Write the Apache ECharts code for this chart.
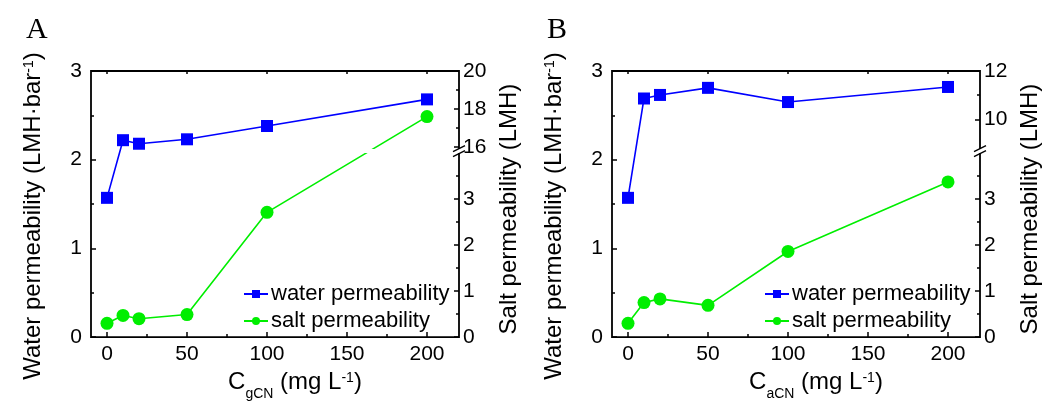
<!DOCTYPE html>
<html><head><meta charset="utf-8">
<script src="https://cdn.jsdelivr.net/npm/echarts@6/dist/echarts.min.js"></script>
<style>html,body{margin:0;padding:0;background:#fff}#c{width:1052px;height:406px}</style>
</head><body><div id="c"></div>
<script>
// ---- data ----
const concentrations = [0, 10, 20, 50, 100, 200];
const waterA = [1.57, 2.22, 2.18, 2.23, 2.38, 2.68];
const saltA = [0.30, 0.47, 0.40, 0.49, 2.71, 17.6];
const waterB = [1.57, 2.69, 2.73, 2.81, 2.65, 2.82];
const saltB = [0.30, 0.75, 0.83, 0.69, 1.86, 3.37];
const xTicks = [0, 50, 100, 150, 200];
const xMinorTicks = [25, 75, 125, 175];
const leftTicks = [0, 1, 2, 3];
const leftMinorTicks = [0.5, 1.5, 2.5];
const saltLowTicks = [0, 1, 2, 3];
const saltLowMinorTicks = [0.5, 1.5, 2.5, 3.5];
const saltHighTicksA = [16, 18, 20];
const saltHighMinorA = [17, 19];
const saltHighTicksB = [10, 12];
const saltHighMinorB = [11];
const panelLetters = ['A', 'B'];
const xSubs = ['gCN', 'aCN'];

// ---- axis break setup (lower segment 0..LOW_MAX over full height, upper segment own range) ----
const LOW_MAX = 5.78, BREAK_LOW = 4.04;
const upperRanges = [[6, 20], [1, 12]];

const FONT = 'Liberation Sans';
const gridLefts = [91, 612];
const panels = [
  {water: waterA, salt: saltA, hi: saltHighTicksA, hiMinor: saltHighMinorA},
  {water: waterB, salt: saltB, hi: saltHighTicksB, hiMinor: saltHighMinorB}
];

function toLower(v, rng) {
  return v > BREAK_LOW ? (v - rng[0]) / (rng[1] - rng[0]) * LOW_MAX : v;
}

const nameRich = {
  m: {fontSize: 24, lineHeight: 26, verticalAlign: 'top', fontFamily: FONT, color: '#000'},
  sup: {fontSize: 14, lineHeight: 14, verticalAlign: 'top', fontFamily: FONT, color: '#000', padding: [1, 0, 0, 0]},
  sub: {fontSize: 14, lineHeight: 14, verticalAlign: 'top', fontFamily: FONT, color: '#000', padding: [17, 0, 0, 0]}
};
const tickStyle = {color: '#000', width: 1.5};
const labelStyle = {fontSize: 21, fontFamily: FONT, color: '#000'};
const noLine = {show: false, onZero: false};

const option = {
  animation: false, backgroundColor: '#fff',
  title: [], grid: [], xAxis: [], yAxis: [], series: [], legend: []
};

panels.forEach((p, i) => {
  const rng = upperRanges[i];
  option.title.push({text: panelLetters[i], left: gridLefts[i] - 70, top: 10,
    textStyle: {fontFamily: 'Liberation Serif', fontSize: 30, fontWeight: 'normal', color: '#000'}});
  option.grid.push({left: gridLefts[i], top: 71, width: 368, height: 271, show: true,
    borderColor: '#000', borderWidth: 1.8, backgroundColor: 'transparent'});
  const xi = option.xAxis.length;
  const base = {gridIndex: i, type: 'value', min: -10, max: 220, axisLine: noLine, splitLine: {show: false}};
  option.xAxis.push(Object.assign({}, base, {position: 'bottom',
    name: '{m|C}{sub|' + xSubs[i] + '}{m| (mg L}{sup|-1}{m|)}', nameLocation: 'middle', nameGap: 29,
    nameTextStyle: {rich: nameRich, padding: [0, 0, 0, 40]},
    axisTick: {inside: true, length: 5, customValues: xTicks, lineStyle: tickStyle},
    axisLabel: Object.assign({customValues: xTicks, margin: 7}, labelStyle)}));
  option.xAxis.push(Object.assign({}, base, {position: 'bottom',
    axisTick: {inside: true, length: 3, customValues: xMinorTicks, lineStyle: tickStyle}, axisLabel: {show: false}}));
  option.xAxis.push(Object.assign({}, base, {position: 'top',
    axisTick: {inside: true, length: 3, customValues: xTicks, lineStyle: tickStyle}, axisLabel: {show: false}}));

  const yi = option.yAxis.length;
  const yb = {gridIndex: i, type: 'value', axisLine: noLine, splitLine: {show: false}};
  // left major (water)
  option.yAxis.push(Object.assign({}, yb, {position: 'left', min: 0, max: 3,
    name: '{m|Water permeability (LMH·bar}{sup|-1}{m|)}', nameLocation: 'middle', nameGap: 44, nameRotate: 90,
    nameTextStyle: {rich: nameRich, padding: [0, 24, 0, 0]},
    axisTick: {inside: true, length: 5, customValues: leftTicks, lineStyle: tickStyle},
    axisLabel: Object.assign({customValues: leftTicks, margin: 9}, labelStyle)}));
  option.yAxis.push(Object.assign({}, yb, {position: 'left', min: 0, max: 3,
    axisTick: {inside: true, length: 3, customValues: leftMinorTicks, lineStyle: tickStyle}, axisLabel: {show: false}}));
  // right lower segment (salt)
  option.yAxis.push(Object.assign({}, yb, {position: 'right', min: 0, max: LOW_MAX,
    name: '{m|Salt permeability (LMH)}', nameLocation: 'middle', nameGap: 38, nameRotate: 90,
    nameTextStyle: {rich: nameRich, padding: [0, 10, 0, 0]},
    axisTick: {inside: true, length: 5, customValues: saltLowTicks, lineStyle: tickStyle},
    axisLabel: Object.assign({customValues: saltLowTicks, margin: 4}, labelStyle)}));
  option.yAxis.push(Object.assign({}, yb, {position: 'right', min: 0, max: LOW_MAX,
    axisTick: {inside: true, length: 3, customValues: saltLowMinorTicks, lineStyle: tickStyle}, axisLabel: {show: false}}));
  // right upper segment
  option.yAxis.push(Object.assign({}, yb, {position: 'right', min: rng[0], max: rng[1],
    axisTick: {inside: true, length: 5, customValues: p.hi, lineStyle: tickStyle},
    axisLabel: Object.assign({customValues: p.hi, margin: 4}, labelStyle)}));
  option.yAxis.push(Object.assign({}, yb, {position: 'right', min: rng[0], max: rng[1],
    axisTick: {inside: true, length: 3, customValues: p.hiMinor, lineStyle: tickStyle}, axisLabel: {show: false}}));

  option.series.push({name: 'water permeability', type: 'line', xAxisIndex: xi, yAxisIndex: yi,
    data: concentrations.map((c, k) => [c, p.water[k]]),
    symbol: 'rect', symbolSize: 12, color: '#0000ff', lineStyle: {width: 1.6, color: '#0000ff'},
    itemStyle: {color: '#0000ff'}, z: 5});
  option.series.push({name: 'salt permeability', type: 'line', xAxisIndex: xi, yAxisIndex: yi + 2,
    data: concentrations.map((c, k) => [c, toLower(p.salt[k], rng)]),
    symbol: 'circle', symbolSize: 13, color: '#00ee00', lineStyle: {width: 1.6, color: '#00ee00'},
    itemStyle: {color: '#00ee00'}, z: 3});
  option.legend.push({left: gridLefts[i] + 152, top: 283, orient: 'vertical', padding: 0,
    itemWidth: 24, itemHeight: 10, itemGap: 5,
    textStyle: {fontSize: 22, fontFamily: FONT, color: '#000', padding: [0, 0, 0, -2]},
    data: ['water permeability', 'salt permeability']});
});

const chart = echarts.init(document.getElementById('c'), null, {renderer: 'canvas'});
chart.setOption(option);

// axis-break decorations computed from the axes
const graphic = [];
panels.forEach((p, i) => {
  const xi = i * 3, yi = i * 6 + 2;
  const yBreak = chart.convertToPixel({yAxisIndex: yi}, BREAK_LOW);
  const xStart = chart.convertToPixel({xAxisIndex: xi}, 30);
  const xRight = chart.convertToPixel({xAxisIndex: xi}, 220);
  graphic.push({type: 'rect', z: 4, shape: {x: xStart, y: yBreak - 2, width: xRight - xStart + 3, height: 4},
    style: {fill: '#fff'}});
  [-2.5, 2.5].forEach(d => {
    graphic.push({type: 'line', z: 6, shape: {x1: xRight - 6, y1: yBreak + d + 3, x2: xRight + 6, y2: yBreak + d - 3},
      style: {stroke: '#000', lineWidth: 1.5}});
  });
});
chart.setOption({graphic: graphic});
</script></body></html>
